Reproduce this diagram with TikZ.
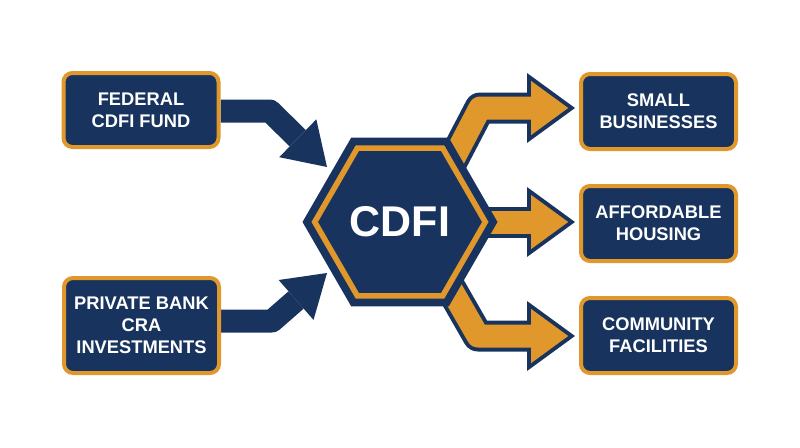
\documentclass[tikz,border=0pt]{standalone}
\usepackage{fontspec}
\setmainfont{Liberation Sans}
\usetikzlibrary{arrows.meta,shapes.geometric,backgrounds}
\definecolor{navy}{HTML}{18345E}
\definecolor{gold}{HTML}{E0982C}
\begin{document}
\begin{tikzpicture}[x=1pt,y=-1pt,
  infobox/.style={draw=gold, line width=4pt, fill=navy, rounded corners=9pt, text=white,
    font=\bfseries\fontsize{18.3}{22}\selectfont, align=center, inner sep=0pt, minimum width=155pt},
  hexa/.style={regular polygon, regular polygon sides=6, inner sep=0pt, outer sep=0pt},
  inarrow/.style={draw=navy, line width=23pt, line join=round,
    -{Triangle[length=41pt,width=53pt,line width=0pt]}},
  outline/.style={draw=navy, line width=31pt, line join=round,
    -{Triangle[length=48pt,width=70pt,line width=0pt]}},
  outfill/.style={draw=gold, line width=23pt, line join=round, shorten >=6.8pt,
    -{Triangle[length=37pt,width=54pt,line width=0pt]}}
]
\useasboundingbox (0,0) rectangle (800,447);

% boxes
\node[infobox, minimum height=74pt] (fed) at (141,110) {FEDERAL\\CDFI FUND};
\node[infobox, minimum height=95pt] (bank) at (141.5,325.5) {PRIVATE BANK\\CRA\\INVESTMENTS};
\node[infobox, minimum height=75pt] (small) at (658.5,111.5) {SMALL\\BUSINESSES};
\node[infobox, minimum height=75pt] (house) at (658.5,223.5) {AFFORDABLE\\HOUSING};
\node[infobox, minimum height=75pt] (comm) at (658.5,335.5) {COMMUNITY\\FACILITIES};

% hexagon
\node[hexa, fill=navy, minimum size=195pt] (cdfi) at (400,222) {};
\node[hexa, fill=gold, minimum size=177pt] (cdfimid) at (cdfi.center) {};
\node[hexa, fill=navy, minimum size=159pt, text=white,
  font=\bfseries\fontsize{43}{43}\selectfont] (cdfiin) at (cdfi.center) {CDFI};

% arrow end points
\coordinate (fedbend) at (270,111);
\coordinate (fedtip) at (327,167);
\coordinate (bankbend) at (272,321);
\coordinate (banktip) at (327,273);
\coordinate (s1) at (445,175);
\coordinate (b1) at (480,108);
\coordinate (t1) at (575,108);
\coordinate (s2) at (450,222);
\coordinate (t2) at (575,222);
\coordinate (s3) at (443,275);
\coordinate (b3) at (478,336);
\coordinate (t3) at (575,336);

\begin{pgfonlayer}{background}
\draw[inarrow] (fed.east |- fedbend) -- (fedbend) -- (fedtip);
\draw[inarrow] (bank.east |- bankbend) -- (bankbend) -- (banktip);
\draw[outline] (s1) -- (b1) -- (t1);
\draw[outfill] (s1) -- (b1) -- (t1);
\draw[outline] (s2) -- (t2);
\draw[outfill] (s2) -- (t2);
\draw[outline] (s3) -- (b3) -- (t3);
\draw[outfill] (s3) -- (b3) -- (t3);
\end{pgfonlayer}
\end{tikzpicture}
\end{document}
